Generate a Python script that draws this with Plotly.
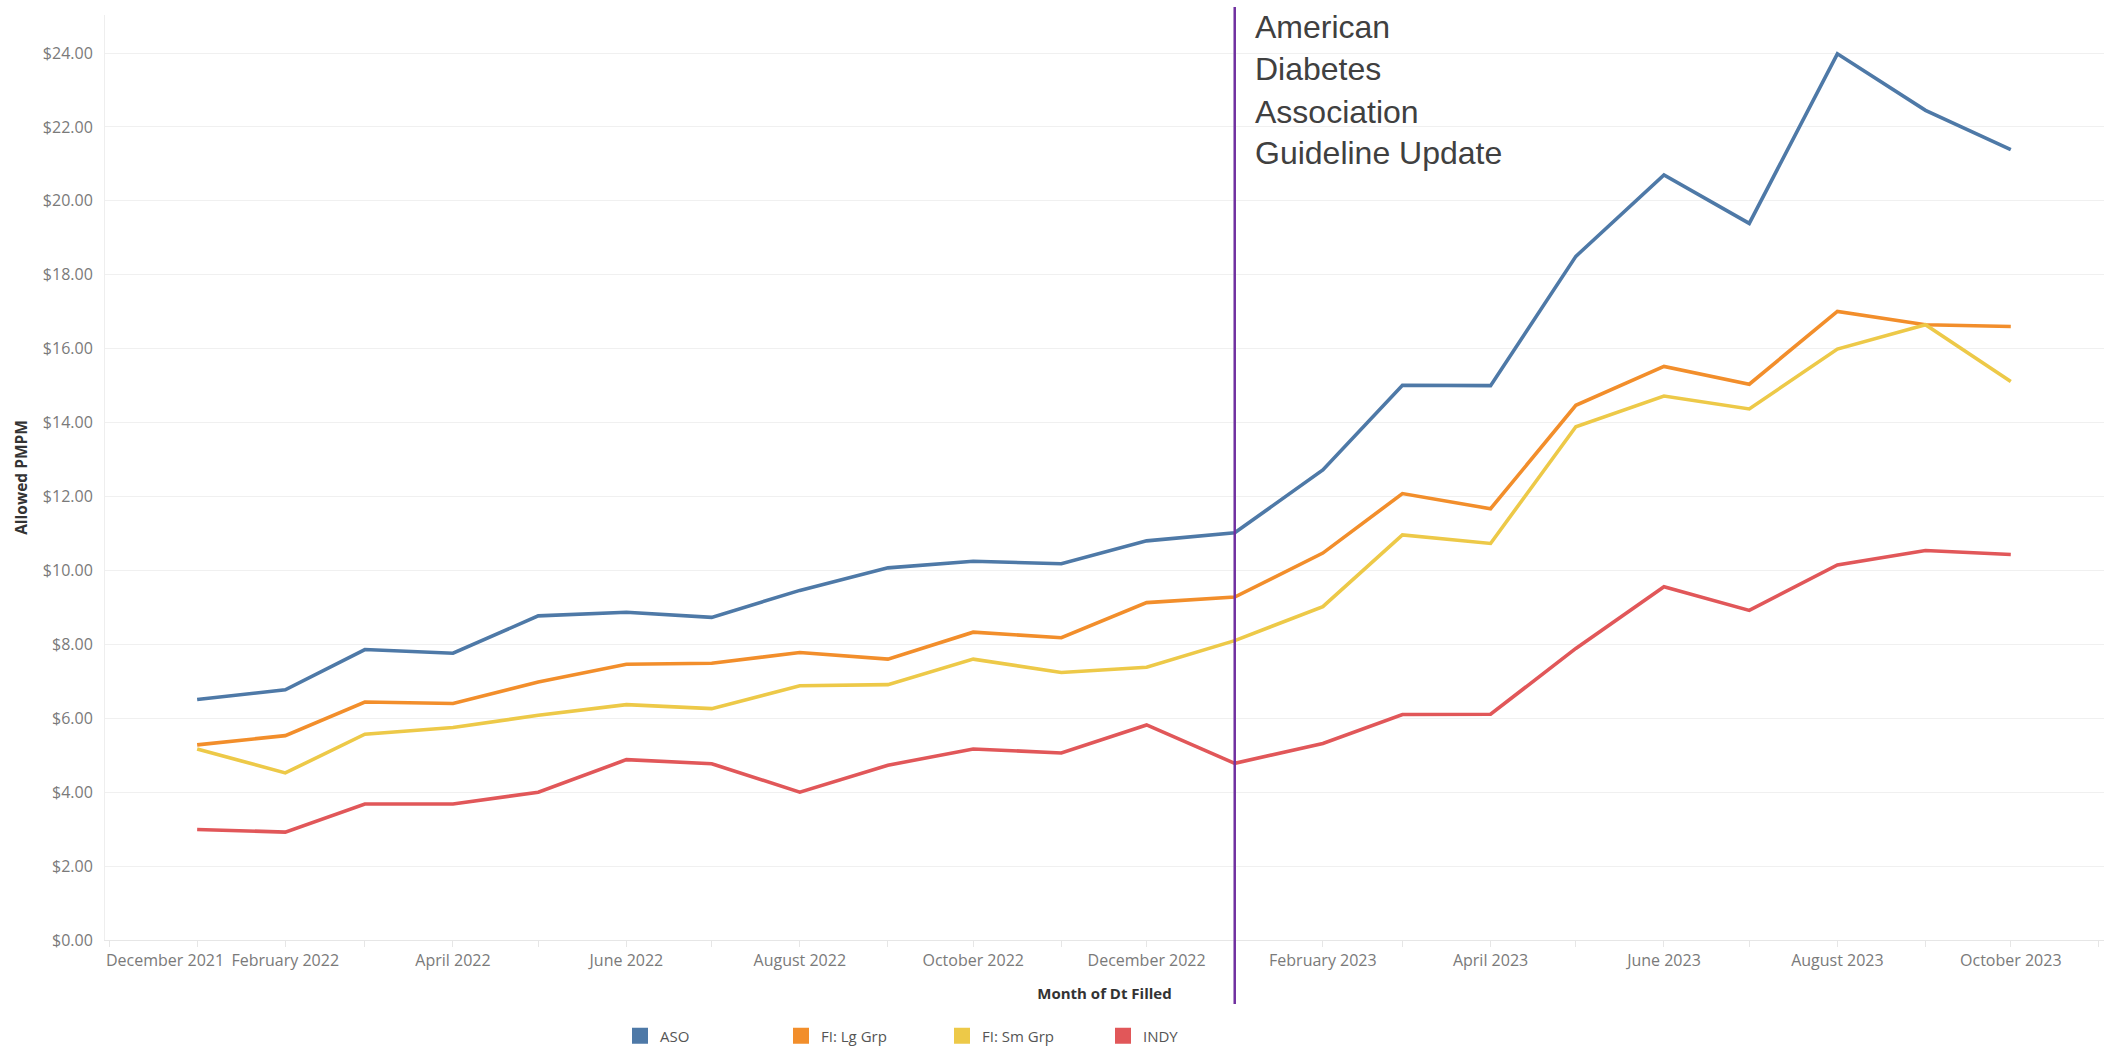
import plotly.graph_objects as go

# ---- data ----
months = ["2022-01-01", "2022-02-01", "2022-03-01", "2022-04-01", "2022-05-01", "2022-06-01",
          "2022-07-01", "2022-08-01", "2022-09-01", "2022-10-01", "2022-11-01", "2022-12-01",
          "2023-01-01", "2023-02-01", "2023-03-01", "2023-04-01", "2023-05-01", "2023-06-01",
          "2023-07-01", "2023-08-01", "2023-09-01", "2023-10-01"]
aso = [6.51, 6.77, 7.86, 7.76, 8.77, 8.87, 8.73, 9.46, 10.07, 10.25, 10.18, 10.80,
       11.02, 12.72, 15.01, 15.00, 18.50, 20.70, 19.39, 23.98, 22.45, 21.39]
fi_lg = [5.28, 5.53, 6.44, 6.40, 6.98, 7.46, 7.49, 7.78, 7.60, 8.33, 8.18, 9.13,
         9.28, 10.47, 12.08, 11.67, 14.47, 15.52, 15.04, 17.01, 16.65, 16.60]
fi_sm = [5.17, 4.52, 5.57, 5.75, 6.08, 6.37, 6.26, 6.88, 6.91, 7.60, 7.24, 7.38,
         8.10, 9.02, 10.96, 10.73, 13.89, 14.72, 14.37, 15.99, 16.65, 15.11]
indy = [2.99, 2.92, 3.68, 3.68, 4.00, 4.88, 4.77, 4.00, 4.73, 5.17, 5.06, 5.82,
        4.78, 5.32, 6.10, 6.11, 7.89, 9.56, 8.92, 10.15, 10.54, 10.43]

series_names = ["ASO", "FI: Lg Grp", "FI: Sm Grp", "INDY"]
series_values = [aso, fi_lg, fi_sm, indy]
series_colors = ["#4e79a7", "#f28e2b", "#edc948", "#e15759"]

axis_months = ["2021-12-01", "2022-01-01", "2022-02-01", "2022-03-01", "2022-04-01", "2022-05-01",
               "2022-06-01", "2022-07-01", "2022-08-01", "2022-09-01", "2022-10-01", "2022-11-01",
               "2022-12-01", "2023-01-01", "2023-02-01", "2023-03-01", "2023-04-01", "2023-05-01",
               "2023-06-01", "2023-07-01", "2023-08-01", "2023-09-01", "2023-10-01", "2023-11-01"]
first_tick = ["2021-12-01"]
first_tick_label = ["December 2021"]
tick_vals = ["2022-02-01", "2022-04-01", "2022-06-01", "2022-08-01", "2022-10-01", "2022-12-01",
             "2023-02-01", "2023-04-01", "2023-06-01", "2023-08-01", "2023-10-01"]
tick_labels = ["February 2022", "April 2022", "June 2022", "August 2022", "October 2022",
               "December 2022", "February 2023", "April 2023", "June 2023", "August 2023",
               "October 2023"]
y_ticks = [0, 2, 4, 6, 8, 10, 12, 14, 16, 18, 20, 22, 24]

event_date = "2023-01-01"
event_lines = ["American", "Diabetes", "Association", "Guideline Update"]

# ---- figure ----
W, H = 2104, 1047
ML, MR, MT, MB = 105, 0, 15, 107
plot_h = H - MT - MB


def py(pix):
    """pixel row -> paper y"""
    return (H - MB - pix) / plot_h


fig = go.Figure()
for name, vals, col in zip(series_names, series_values, series_colors):
    fig.add_trace(go.Scatter(x=months, y=vals, mode="lines", name=name,
                             line=dict(color=col, width=3.6), showlegend=False))
for name, col in zip(series_names, series_colors):
    fig.add_trace(go.Scatter(x=[None], y=[None], mode="markers", name=name,
                             marker=dict(symbol="square", size=16, color=col),
                             showlegend=True, hoverinfo="skip"))
# carrier so that the overlaid axis holding the first tick label is drawn
fig.add_trace(go.Scatter(x=first_tick, y=[None], xaxis="x2", mode="markers",
                         showlegend=False, hoverinfo="skip"))

tick_font = dict(family="Open Sans", size=16, color="#7a7a7a")
x_range = ["2021-11-29 14:00", "2023-11-02 19:00"]

fig.update_layout(
    width=W, height=H,
    margin=dict(l=ML, r=MR, t=MT, b=MB, autoexpand=False),
    paper_bgcolor="white", plot_bgcolor="white",
    font=dict(family="Open Sans", color="#555555"),
    xaxis=dict(
        type="date", range=x_range,
        tickmode="array", tickvals=tick_vals, ticktext=tick_labels,
        tickfont=tick_font,
        showgrid=False, zeroline=False,
        showline=True, linecolor="#e6e6e6", linewidth=1,
        ticks="outside", ticklen=6, tickcolor="#e6e6e6",
        minor=dict(tickmode="array", tickvals=axis_months, ticks="outside",
                   ticklen=6, tickcolor="#e6e6e6", showgrid=False),
        title=dict(text="<b>Month of Dt Filled</b>", standoff=18,
                   font=dict(family="Open Sans", size=15, color="#333333")),
        automargin=False,
    ),
    xaxis2=dict(
        type="date", overlaying="x", matches="x", anchor="y", side="bottom",
        range=x_range,
        tickmode="array", tickvals=first_tick, ticktext=first_tick_label,
        ticklabelshift=56, tickfont=tick_font,
        showgrid=False, zeroline=False, showline=False, ticks="outside",
        ticklen=6, tickcolor="rgba(0,0,0,0)", automargin=False,
    ),
    yaxis=dict(
        range=[0, 25.03], tickmode="array", tickvals=y_ticks, tickformat="$.2f",
        tickfont=tick_font,
        showgrid=True, gridcolor="#f0f0f0", gridwidth=1,
        zeroline=False, showline=True, linecolor="#eeeeee", linewidth=1,
        ticks="", ticklabelstandoff=8,
        title=dict(text="<b>Allowed PMPM</b>", standoff=11,
                   font=dict(family="Open Sans", size=15.5, color="#333333")),
        automargin=False,
    ),
    legend=dict(
        orientation="h", x=(620 - ML) / (W - ML - MR), xanchor="left",
        y=py(1036), yanchor="middle",
        entrywidth=116, entrywidthmode="pixels",
        font=dict(family="Open Sans", size=15, color="#555555"),
        bgcolor="rgba(0,0,0,0)", borderwidth=0,
    ),
)

fig.add_shape(type="line", xref="x", yref="paper",
              x0=event_date, x1=event_date, y0=py(7), y1=py(1004),
              line=dict(color="#7030a0", width=2.5), layer="above")

line_centers = [27, 69.5, 111.5, 153]
for txt, yc in zip(event_lines, line_centers):
    fig.add_annotation(xref="x", yref="paper", x=event_date, y=py(yc),
                       xanchor="left", yanchor="middle", xshift=18,
                       text=txt, showarrow=False,
                       font=dict(family="Liberation Sans", size=32, color="#404040"))

fig.write_html("out.html", config={"displayModeBar": False},
               post_script="document.body.style.margin='0';")
